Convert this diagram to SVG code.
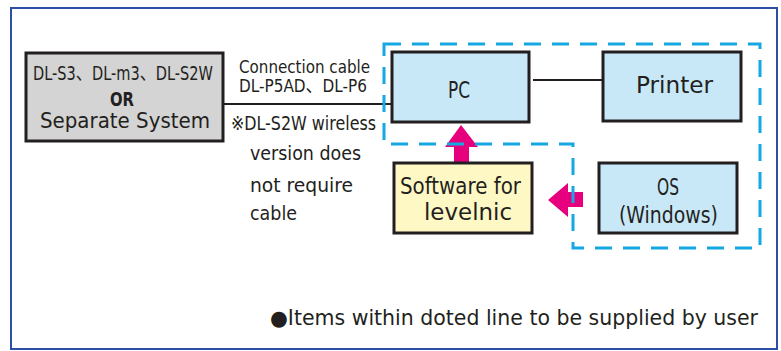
<svg xmlns="http://www.w3.org/2000/svg" width="781" height="351" viewBox="0 0 781 351">
<style>
text{font-family:"DejaVu Sans Condensed","DejaVu Sans","Noto Sans CJK JP",sans-serif;fill:#231f20;}
.box{stroke:#231f20;stroke-width:3;}
.blue{fill:#c8e8f8;}
.t{font-size:20px;}
.s{font-size:18.5px;}
.b{font-size:22.5px;}
.f{font-size:21px;}
.c{text-anchor:middle;}
.ln{stroke:#231f20;stroke-width:2;fill:none;}
.dash{fill:none;stroke:#16a8e2;stroke-width:3;stroke-dasharray:17 11;}
.arrow{fill:#e6007e;}
</style>
<rect width="781" height="351" fill="#fff"/>
<rect x="11" y="8" width="766" height="341" fill="none" stroke="#2d4ea5" stroke-width="2"/>
<g id="connectors">
<line class="ln" x1="224" y1="104" x2="392" y2="104"/>
<line class="ln" x1="533" y1="80" x2="603" y2="80"/>
<path class="arrow" d="M461,125 L478,147 L469,147 L469,162 L454,162 L454,147 L445,147 Z"/>
<path class="arrow" d="M548,200 L568,183 L568,192 L583,192 L583,207 L568,207 L568,217 Z"/>
</g>
<g id="user-supplied">
<path class="dash" d="M384,44 L760,44 L760,248 L573,248 L573,144 L384,144 Z"/>
</g>
<g id="device">
<rect class="box" x="26" y="53" width="197" height="88" fill="#d4d4d4"/>
<text class="t" x="33" y="80" textLength="180" lengthAdjust="spacingAndGlyphs">DL-S3、DL-m3、DL-S2W</text>
<text class="c" x="122" y="106" font-size="19.5" textLength="24" lengthAdjust="spacingAndGlyphs" font-weight="bold">OR</text>
<text class="f" x="40" y="128" textLength="170" lengthAdjust="spacingAndGlyphs">Separate System</text>
</g>
<g id="cable-label">
<text class="s" x="239" y="73" textLength="131" lengthAdjust="spacingAndGlyphs">Connection cable</text>
<text class="s" x="239" y="92" textLength="128" lengthAdjust="spacingAndGlyphs">DL-P5AD、DL-P6</text>
<text class="t" x="231" y="130" textLength="145" lengthAdjust="spacingAndGlyphs">※DL-S2W wireless</text>
<text class="t" x="250" y="160" textLength="111" lengthAdjust="spacingAndGlyphs">version does</text>
<text class="t" x="250" y="192" textLength="103" lengthAdjust="spacingAndGlyphs">not require</text>
<text class="t" x="250" y="220" textLength="47" lengthAdjust="spacingAndGlyphs">cable</text>
</g>
<g id="pc">
<rect class="box blue" x="392" y="52" width="137" height="70"/>
<text class="b" x="448" y="98" textLength="22" lengthAdjust="spacingAndGlyphs">PC</text>
</g>
<g id="printer">
<rect class="box blue" x="603" y="52" width="138" height="69"/>
<text class="b" x="636" y="93" textLength="77" lengthAdjust="spacingAndGlyphs">Printer</text>
</g>
<g id="software">
<rect class="box" x="394" y="163" width="138" height="70" fill="#fef8c4"/>
<text class="b" x="400" y="194" textLength="121" lengthAdjust="spacingAndGlyphs">Software for</text>
<text class="b" x="424" y="220" textLength="88" lengthAdjust="spacingAndGlyphs">levelnic</text>
</g>
<g id="os">
<rect class="box blue" x="599" y="163" width="138" height="70"/>
<text class="b" x="657" y="195" textLength="22" lengthAdjust="spacingAndGlyphs">OS</text>
<text class="b" x="619" y="223" textLength="99" lengthAdjust="spacingAndGlyphs">(Windows)</text>
</g>
<g id="note">
<text class="f" x="270" y="325" textLength="488" lengthAdjust="spacingAndGlyphs">●Items within doted line to be supplied by user</text>
</g>
</svg>
